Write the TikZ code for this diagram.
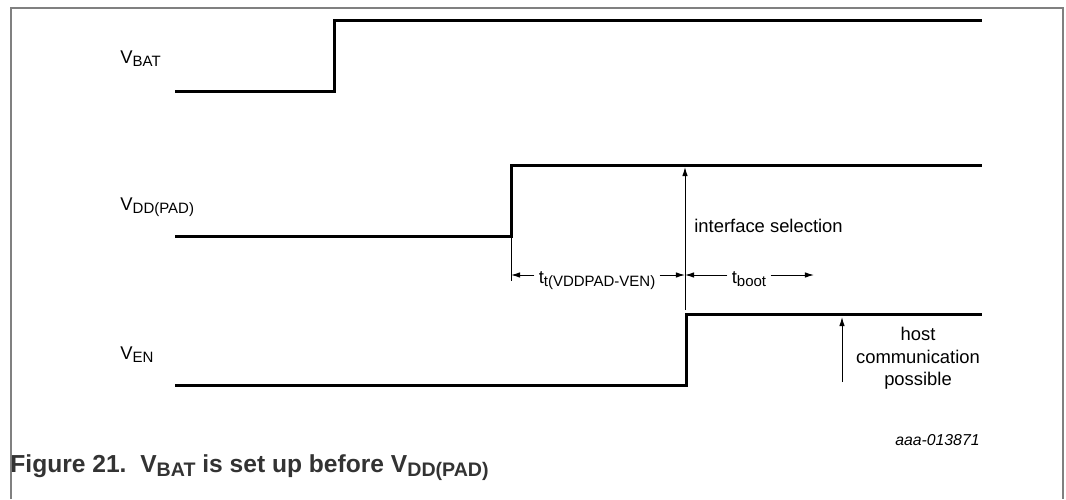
\documentclass[tikz,border=0pt]{standalone}
\usepackage{fontspec}
\setmainfont{Liberation Sans}
\usetikzlibrary{arrows.meta}
\newcommand\sig[1]{\raisebox{-1.8pt}{\fontsize{7.5}{8}\selectfont #1}}
\newcommand\capsig[1]{\raisebox{-2.2pt}{\fontsize{9.8}{10}\selectfont\bfseries #1}}
\tikzset{
  wave/.style={line width=1.5pt, line join=miter},
  guide/.style={line width=0.5pt},
  dim/.style={guide, -{Latex[length=4.6pt,width=2.8pt]}},
  tag/.style={font=\fontsize{9.2}{11.2}\selectfont, inner sep=0pt},
}
\begin{document}
\begin{tikzpicture}[x=0.5pt,y=-0.5pt]
  \useasboundingbox (0,0) rectangle (1066,499);
  \draw [black!50, line width=0.6pt] (11,499) -- (11,8) -- (1063,8) -- (1063,499);

  % waveforms
  \draw [wave] (175,91) -- (334,91) -- (334,20) -- (982,20);
  \draw [wave] (175,236) -- (511,236) -- (511,165) -- (982,165);
  \draw [wave] (175,385) -- (686,385) -- (686,314) -- (982,314);

  \node [tag, anchor=base west] (vbat) at (120,63) {V\sig{BAT}};
  \node [tag, anchor=base west] (vdd) at (120,210) {V\sig{DD(PAD)}};
  \node [tag, anchor=base west] (ven) at (120,359) {V\sig{EN}};

  % timing marks
  \coordinate (t1) at (511,275);
  \coordinate (t2) at (685,275);
  \coordinate (t3) at (814,275);
  \coordinate (selbase) at (685,310);
  \coordinate (seltop) at (685,167);
  \coordinate (hostbase) at (842,382);
  \coordinate (hosttop) at (842,317);

  \draw [guide] (511,236) -- (511,281);
  \draw [dim] (selbase) -- (seltop);
  \draw [dim] (hostbase) -- (hosttop);

  \node [tag, inner xsep=2pt, anchor=base] (tvdd) at (597,283) {t\sig{t(VDDPAD-VEN)}};
  \node [tag, inner xsep=2pt, anchor=base] (tboot) at (749,283) {t\sig{boot}};
  \draw [dim] (tvdd.west |- t1) -- (t1);
  \draw [dim] (tvdd.east |- t2) -- (t2);
  \draw [dim] (tboot.west |- t2) -- (t2);
  \draw [dim] (tboot.east |- t3) -- (t3);

  \node [tag, anchor=base west] (sel) at (694,232) {interface selection};
  \node [tag, anchor=north, align=center] (host) at (918,327) {host\\communication\\possible};

  \node [tag, anchor=base east, font=\fontsize{7.9}{9}\selectfont\itshape] (id) at (980,445) {aaa-013871};
  \node [anchor=base west, inner sep=0pt, text=black!80, font=\fontsize{12.3}{14}\selectfont\bfseries]
    (caption) at (10,472) {Figure 21.\ \ V\capsig{BAT} is set up before V\capsig{DD(PAD)}};
\end{tikzpicture}
\end{document}
